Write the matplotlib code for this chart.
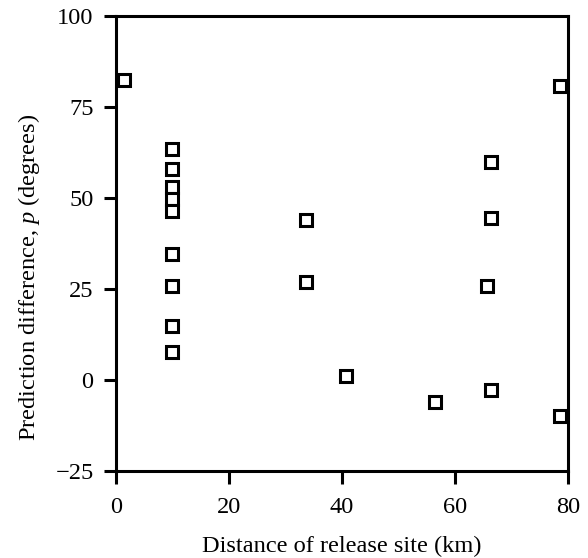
import numpy as np
import matplotlib.pyplot as plt

plt.rcParams['font.family'] = ['Liberation Serif', 'DejaVu Serif']
plt.rcParams['mathtext.fontset'] = 'custom'
plt.rcParams['mathtext.it'] = 'Liberation Serif:italic'
plt.rcParams['mathtext.rm'] = 'Liberation Serif'

# distance of release site (km) and prediction difference p (degrees)
distance = [1.5, 10, 10, 10, 10, 10, 10, 10, 10, 10,
            33.6, 33.6, 40.8, 56.5, 65.7, 66.3, 66.3, 66.3, 78.6, 78.6]
pred_diff = [82.2, 63.5, 58, 53, 49.7, 46.3, 34.6, 25.8, 14.8, 7.7,
             43.9, 26.9, 1.0, -6.1, 25.7, 59.9, 44.3, -2.9, 80.8, -10.1]

x_ticks = [0, 20, 40, 60, 80]
y_ticks = [-25, 0, 25, 50, 75, 100]

fig = plt.figure(figsize=(5.88, 5.58), dpi=100)
ax = fig.add_axes([0.197, 0.1564, 0.769, 0.8155])

ax.plot(distance, pred_diff, linestyle='none', marker='s', markersize=9,
        markerfacecolor='white', markeredgecolor='black', markeredgewidth=2.2,
        clip_on=False, zorder=3)

ax.set_xlim(0, 80)
ax.set_ylim(-25, 100)
ax.set_xticks(x_ticks)
ax.set_yticks(y_ticks)
ax.set_yticklabels([str(v).replace('-', '\u2212') for v in y_ticks])

for s in ax.spines.values():
    s.set_linewidth(2.2)
ax.tick_params(direction='out', length=9, width=2.2, labelsize=17.6)
ax.tick_params(axis='x', pad=10)
ax.tick_params(axis='y', pad=7)

ax.set_xlabel('Distance of release site (km)', fontsize=17.6, labelpad=13)
ax.set_ylabel('Prediction difference, $p$ (degrees)', fontsize=17.6)
ax.yaxis.set_label_coords(-0.164, 0.4257)

fig.savefig('out.png', dpi=100)
